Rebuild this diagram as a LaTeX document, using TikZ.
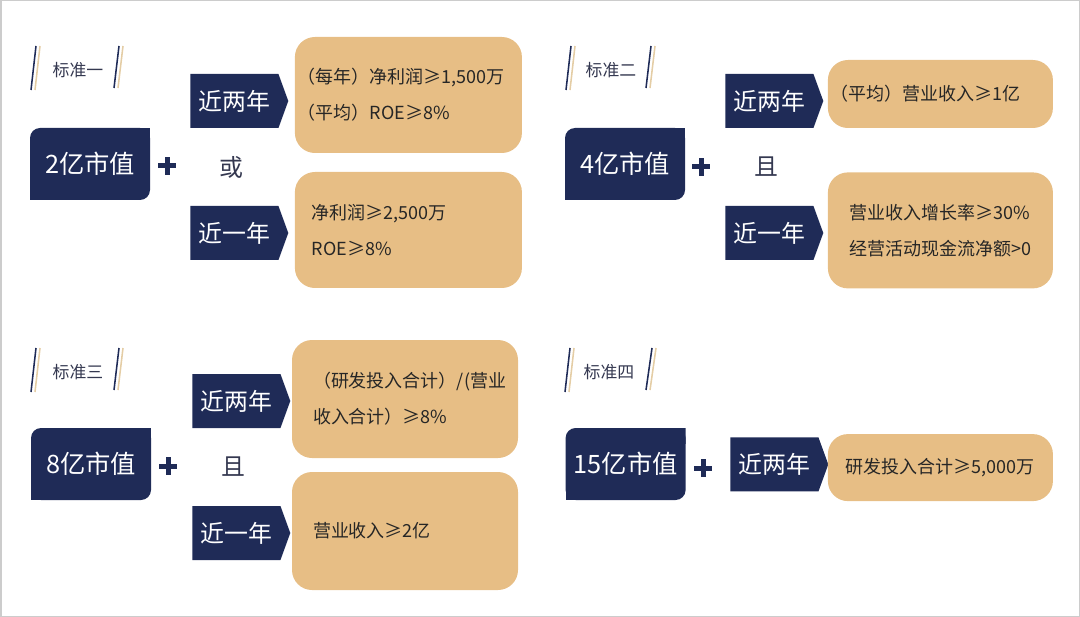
\documentclass[tikz,border=0pt]{standalone}
\usepackage{fontspec}
\setmainfont{Noto Sans CJK SC}
\usepackage{xcolor}
\usepackage{tikz}
\usetikzlibrary{shapes.symbols}
\definecolor{navy}{RGB}{31,43,87}
\definecolor{sand}{RGB}{231,190,133}
\definecolor{straw}{RGB}{228,205,165}
\definecolor{ink}{RGB}{38,38,38}
\definecolor{slate}{RGB}{52,56,80}

\begin{document}
\begin{tikzpicture}
\tikzstyle{every node}=[font=\fontsize{12.8}{25.6}\selectfont]
\tikzstyle{valbox}=[minimum width=3cm, minimum height=1.8cm, inner sep=0pt, text=white, font=\fontsize{18}{20}\selectfont,
  path picture={\fill[navy, rounded corners=0.25cm] (path picture bounding box.south west) rectangle (path picture bounding box.north east);
    \fill[navy] (path picture bounding box.north east) rectangle ++(-0.4,-0.4);
    \fill[navy] (path picture bounding box.south west) rectangle ++(0.4,0.4);}]
\tikzstyle{yeartag}=[signal, signal to=east, signal pointer angle=140, fill=navy, text=white, minimum width=2.45cm, minimum height=1.35cm, inner sep=0pt, font=\fontsize{17}{19}\selectfont]
\tikzstyle{cond}=[fill=sand, rounded corners=0.5cm, text=ink, align=left, minimum height=2.9cm]
\tikzstyle{joint}=[text=slate, font=\fontsize{17}{19}\selectfont]
\tikzstyle{stdlabel}=[text=slate, font=\fontsize{12}{14}\selectfont]
\tikzstyle{plusmark}=[minimum size=0.45cm, inner sep=0pt,
  path picture={\fill[navy] ([shift={(-0.225,-0.0625)}]path picture bounding box.center) rectangle ++(0.45,0.125);
    \fill[navy] ([shift={(-0.0625,-0.225)}]path picture bounding box.center) rectangle ++(0.125,0.45);}]
\tikzstyle{slash}=[navy, line width=1.1pt]
\tikzstyle{shade}=[straw, line width=1.1pt]
\useasboundingbox (0,0) rectangle (27,-15.425);
\draw [gray!40, line width=1pt] (0.02,-0.02) rectangle (26.98,-15.405);

% standard one
\node [stdlabel] (lab1) at (1.95,-1.75) {标准一};
\draw [slash] ([shift={(-1.175,-0.5)}]lab1.center) -- ([shift={(-1.05,0.6)}]lab1.center);
\draw [shade] ([shift={(-1.075,-0.5)}]lab1.center) -- ([shift={(-0.95,0.6)}]lab1.center);
\draw [slash] ([shift={(0.9,-0.45)}]lab1.center) -- ([shift={(1.025,0.6)}]lab1.center);
\draw [shade] ([shift={(1.0,-0.45)}]lab1.center) -- ([shift={(1.125,0.6)}]lab1.center);
\node [valbox] (val1) at (2.25,-4.1) {2亿市值};
\node [plusmark] (plus1) at (4.175,-4.15) {};
\node [yeartag, anchor=west] (two1) at (4.75,-2.525) {近两年};
\node [joint] (or1) at (5.775,-4.175) {或};
\node [yeartag, anchor=west] (one1) at (4.75,-5.825) {近一年};
\node [cond, inner xsep=0.075cm, text width=5.525cm] (cond1a) at (10.21,-2.375) {（每年）净利润≥1,500万\\（平均）ROE≥8\%};
\node [cond, inner xsep=0.425cm, text width=4.825cm] (cond1b) at (10.21,-5.75) {净利润≥2,500万\\ROE≥8\%};

% standard two
\node [stdlabel] (lab2) at (15.275,-1.75) {标准二};
\draw [slash] ([shift={(-1.125,-0.5)}]lab2.center) -- ([shift={(-1.0,0.6)}]lab2.center);
\draw [shade] ([shift={(-1.025,-0.5)}]lab2.center) -- ([shift={(-0.9,0.6)}]lab2.center);
\draw [slash] ([shift={(0.875,-0.45)}]lab2.center) -- ([shift={(1.0,0.6)}]lab2.center);
\draw [shade] ([shift={(0.975,-0.45)}]lab2.center) -- ([shift={(1.1,0.6)}]lab2.center);
\node [valbox] (val2) at (15.625,-4.1) {4亿市值};
\node [plusmark] (plus2) at (17.525,-4.175) {};
\node [yeartag, anchor=west] (two2) at (18.125,-2.525) {近两年};
\node [joint] (and2) at (19.15,-4.175) {且};
\node [yeartag, anchor=west] (one2) at (18.125,-5.825) {近一年};
\node [cond, minimum height=1.7cm, inner xsep=0.075cm, text width=5.475cm] (cond2a) at (23.51,-2.35) {（平均）营业收入≥1亿};
\node [cond, minimum width=5.625cm] (cond2b) at (23.51,-5.76) {营业收入增长率≥30\%\\经营活动现金流净额>0};

% standard three
\node [stdlabel] (lab3) at (1.95,-9.3) {标准三};
\draw [slash] ([shift={(-1.175,-0.5)}]lab3.center) -- ([shift={(-1.05,0.6)}]lab3.center);
\draw [shade] ([shift={(-1.075,-0.5)}]lab3.center) -- ([shift={(-0.95,0.6)}]lab3.center);
\draw [slash] ([shift={(0.9,-0.45)}]lab3.center) -- ([shift={(1.025,0.6)}]lab3.center);
\draw [shade] ([shift={(1.0,-0.45)}]lab3.center) -- ([shift={(1.125,0.6)}]lab3.center);
\node [valbox] (val3) at (2.275,-11.6) {8亿市值};
\node [plusmark] (plus3) at (4.2,-11.65) {};
\node [yeartag, anchor=west] (two3) at (4.8,-10.025) {近两年};
\node [joint] (and3) at (5.825,-11.675) {且};
\node [yeartag, anchor=west] (one3) at (4.8,-13.325) {近一年};
\node [cond, minimum height=2.95cm, inner xsep=0.525cm, text width=4.6cm] (cond3a) at (10.125,-9.975) {（研发投入合计）/(营业\\收入合计）≥8\%};
\node [cond, minimum height=2.95cm, inner xsep=0.525cm, text width=4.6cm] (cond3b) at (10.125,-13.275) {营业收入≥2亿};

% standard four
\node [stdlabel] (lab4) at (15.225,-9.3) {标准四};
\draw [slash] ([shift={(-1.1,-0.5)}]lab4.center) -- ([shift={(-0.975,0.6)}]lab4.center);
\draw [shade] ([shift={(-1.0,-0.5)}]lab4.center) -- ([shift={(-0.875,0.6)}]lab4.center);
\draw [slash] ([shift={(0.925,-0.45)}]lab4.center) -- ([shift={(1.075,0.6)}]lab4.center);
\draw [shade] ([shift={(1.025,-0.45)}]lab4.center) -- ([shift={(1.175,0.6)}]lab4.center);
\node [valbox] (val4) at (15.64,-11.6) {15亿市值};
\node [plusmark] (plus4) at (17.575,-11.7) {};
\node [yeartag, anchor=west] (two4) at (18.25,-11.61) {近两年};
\node [cond, minimum width=5.625cm, minimum height=1.675cm] (cond4) at (23.51,-11.69) {研发投入合计≥5,000万};
\end{tikzpicture}
\end{document}
